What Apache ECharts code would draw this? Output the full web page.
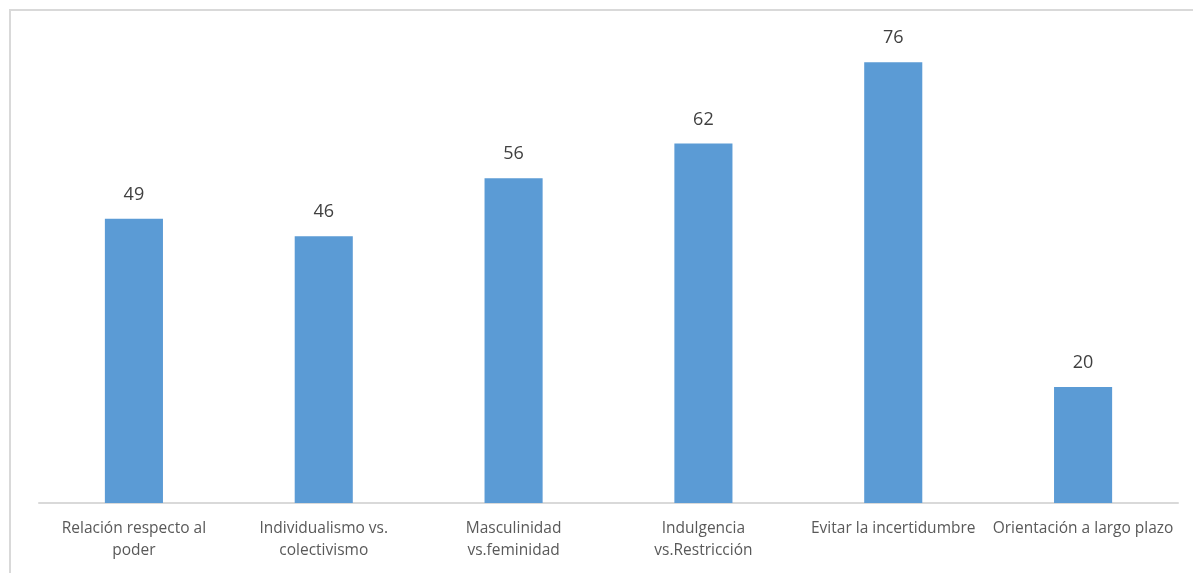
<!DOCTYPE html>
<html><head><meta charset="utf-8">
<style>html,body{margin:0;padding:0;background:#fff;}#frame{position:absolute;left:9px;top:9px;width:1200px;height:600px;border-left:2px solid #d9d9d9;border-top:2px solid #d9d9d9;box-sizing:border-box;}#c{position:absolute;left:0;top:0;width:1193px;height:573px;}</style>
<script src="https://cdn.jsdelivr.net/npm/echarts@6/dist/echarts.min.js"></script>
</head><body><div id="frame"></div><div id="c"></div>
<script>
const categories = ["Relación respecto al\npoder", "Individualismo vs.\ncolectivismo", "Masculinidad\nvs.feminidad", "Indulgencia\nvs.Restricción", "Evitar la incertidumbre", "Orientación a largo plazo"];
const values = [49, 46, 56, 62, 76, 20];
const chart = echarts.init(document.getElementById('c'), null, {renderer: 'canvas'});
chart.setOption({
  animation: false,
  grid: {left: 39, right: 15, top: 39, bottom: 70},
  xAxis: {
    type: 'category', data: categories,
    axisLine: {lineStyle: {color: '#d9d9d9', width: 2}},
    axisTick: {show: false},
    axisLabel: {interval: 0, color: '#595959', fontFamily: 'Open Sans', fontSize: 15.5, lineHeight: 22, margin: 15}
  },
  yAxis: {type: 'value', min: 0, max: 80, show: false, splitLine: {show: false}},
  series: [{
    type: 'bar', data: values, barWidth: '30.6%',
    itemStyle: {color: '#5b9bd5'},
    label: {show: true, position: 'top', distance: 15, color: '#404040', fontFamily: 'Open Sans', fontSize: 18}
  }]
});
</script></body></html>
